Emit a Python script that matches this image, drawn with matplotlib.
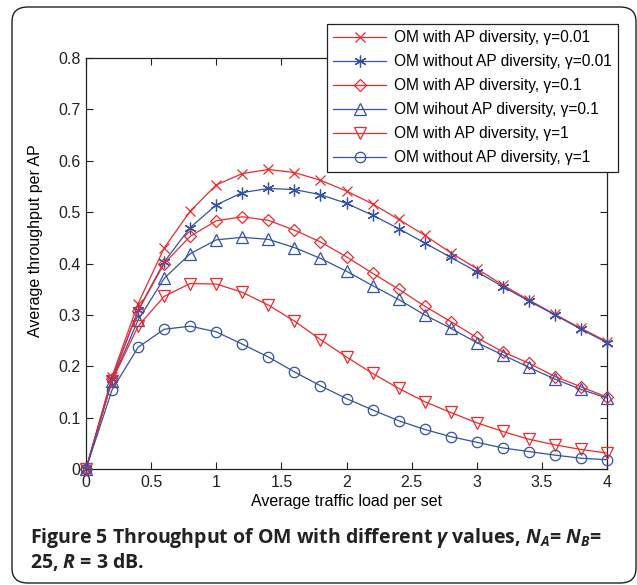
import matplotlib
matplotlib.use('Agg')
import matplotlib.pyplot as plt
from matplotlib.patches import FancyBboxPatch
from matplotlib.ticker import FormatStrFormatter

plt.rcParams['font.family'] = ['Liberation Sans', 'DejaVu Sans']
plt.rcParams['mathtext.fontset'] = 'custom'
plt.rcParams['mathtext.rm'] = 'Open Sans:bold'
plt.rcParams['mathtext.it'] = 'Open Sans:italic:bold'
plt.rcParams['mathtext.bf'] = 'Open Sans:bold'

# traffic load values
load = [0.0, 0.2, 0.4, 0.6, 0.8, 1.0, 1.2, 1.4, 1.6, 1.8, 2.0,
        2.2, 2.4, 2.6, 2.8, 3.0, 3.2, 3.4, 3.6, 3.8, 4.0]

# throughput curves
with_div_001 = [0, 0.180, 0.322, 0.430, 0.502, 0.553, 0.575, 0.583, 0.577, 0.562, 0.541,
                0.516, 0.486, 0.455, 0.421, 0.390, 0.358, 0.329, 0.301, 0.274, 0.248]
without_div_001 = [0, 0.175, 0.309, 0.403, 0.470, 0.514, 0.538, 0.546, 0.544, 0.534, 0.517,
                   0.494, 0.468, 0.440, 0.412, 0.384, 0.355, 0.327, 0.300, 0.272, 0.246]
with_div_01 = [0, 0.176, 0.308, 0.400, 0.453, 0.483, 0.491, 0.484, 0.465, 0.442, 0.413,
               0.381, 0.350, 0.317, 0.287, 0.256, 0.228, 0.206, 0.180, 0.160, 0.140]
without_div_01 = [0, 0.172, 0.290, 0.371, 0.419, 0.446, 0.451, 0.447, 0.431, 0.410, 0.385,
                  0.357, 0.330, 0.300, 0.274, 0.246, 0.222, 0.198, 0.175, 0.155, 0.138]
with_div_1 = [0, 0.172, 0.278, 0.336, 0.361, 0.360, 0.344, 0.319, 0.288, 0.252, 0.218,
              0.186, 0.157, 0.131, 0.110, 0.090, 0.073, 0.058, 0.047, 0.038, 0.031]
without_div_1 = [0, 0.154, 0.237, 0.272, 0.278, 0.267, 0.243, 0.218, 0.189, 0.162, 0.137,
                 0.115, 0.094, 0.077, 0.063, 0.052, 0.041, 0.034, 0.027, 0.021, 0.018]

labels = ['OM with AP diversity, \u03b3=0.01',
          'OM without AP diversity, \u03b3=0.01',
          'OM with AP diversity, \u03b3=0.1',
          'OM wihout AP diversity, \u03b3=0.1',
          'OM with AP diversity, \u03b3=1',
          'OM without AP diversity, \u03b3=1']

red = '#f0282a'
blue = '#3252a8'

fig = plt.figure(figsize=(6.37, 5.85), dpi=100)

# rounded frame around whole figure
frame = FancyBboxPatch((12 / 637, 1 - 583 / 585), (636 - 12) / 637, (583 - 7) / 585,
                       boxstyle='round,pad=0,rounding_size=0.025',
                       transform=fig.transFigure, fill=False, ec='#222222', lw=1.0)
fig.patches.append(frame)

ax = fig.add_axes([86 / 637, 1 - 469 / 585, (607 - 86) / 637, (469 - 58) / 585])

asterisk = (6, 2, 0)
series = [(with_div_001, red, 'x', 7),
          (without_div_001, blue, asterisk, 8.5),
          (with_div_01, red, 'D', 6.5),
          (without_div_01, blue, '^', 8),
          (with_div_1, red, 'v', 8),
          (without_div_1, blue, 'o', 7.5)]

for (vals, c, m, ms), lab in zip(series, labels):
    ax.plot(load, vals, color=c, marker=m, ms=ms, mfc='none', mec=c,
            lw=0.9, mew=0.9, label=lab, clip_on=False, zorder=3)

ax.set_xlim(0, 4)
ax.set_ylim(0, 0.8)
ax.set_xticks([0, 0.5, 1, 1.5, 2, 2.5, 3, 3.5, 4])
ax.set_yticks([0, 0.1, 0.2, 0.3, 0.4, 0.5, 0.6, 0.7, 0.8])
ax.xaxis.set_major_formatter(FormatStrFormatter('%g'))
ax.yaxis.set_major_formatter(FormatStrFormatter('%g'))
ax.tick_params(direction='in', top=True, right=True, length=5, width=0.8,
               labelsize=11.5, colors='#222222', pad=4)
for s in ax.spines.values():
    s.set_linewidth(0.9)
    s.set_color('#222222')

ax.set_xlabel('Average traffic load per set', fontsize=11.5, labelpad=3)
ax.set_ylabel('Average throughput per AP', fontsize=11.5)
ax.yaxis.set_label_coords(-0.083, 0.555)

leg = fig.legend(loc='upper right', bbox_to_anchor=(618 / 637, 1 - 24 / 585),
                 fontsize=11.2, handlelength=3.4, labelspacing=0.58,
                 fancybox=False, framealpha=1, edgecolor='#222222',
                 borderpad=0.4, handletextpad=0.5, borderaxespad=0)
leg.get_frame().set_linewidth(0.9)

fig.text(30 / 637, 1 - 543 / 585,
         r'Figure 5 Throughput of OM with different $\gamma$ values, $N_A$= $N_B$=',
         fontsize=14, family='Open Sans', weight='bold', color='#222222')
fig.text(30 / 637, 1 - 568 / 585, r'25, $R$ = 3 dB.',
         fontsize=14, family='Open Sans', weight='bold', color='#222222')

fig.savefig('out.png', dpi=100)
